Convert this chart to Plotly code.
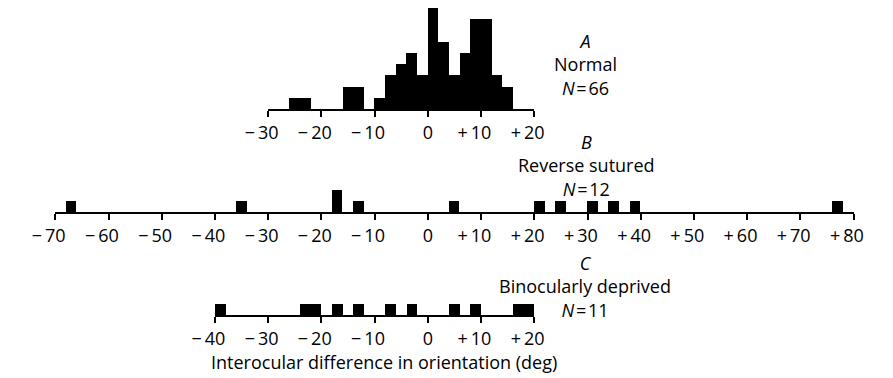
import plotly.graph_objects as go

# ---------------- data ----------------
# Panel A: Normal (2-degree bins, left edges and counts)
a_bin_left = [-26, -24, -16, -14, -10, -8, -6, -4, -2, 0, 2, 4, 6, 8, 10, 12, 14]
a_counts = [1, 1, 2, 2, 1, 3, 4, 5, 3, 9, 6, 3, 5, 8, 8, 3, 2]
# Panel B: Reverse sutured
b_bin_left = [-68, -36, -18, -14, 4, 20, 24, 30, 34, 38, 76]
b_counts = [1, 1, 2, 1, 1, 1, 1, 1, 1, 1, 1]
# Panel C: Binocularly deprived
c_bin_left = [-40, -24, -22, -18, -14, -8, -4, 4, 8, 16, 18]
c_counts = [1, 1, 1, 1, 1, 1, 1, 1, 1, 1, 1]
bin_width = 2

a_ticks = [-30, -20, -10, 0, 10, 20]
a_ticklabels = ["\u221230", "\u221220", "\u221210", "0", "+10", "+20"]
b_ticks = [-70, -60, -50, -40, -30, -20, -10, 0, 10, 20, 30, 40, 50, 60, 70, 80]
b_ticklabels = ["\u221270", "\u221260", "\u221250", "\u221240", "\u221230", "\u221220", "\u221210",
                "0", "+10", "+20", "+30", "+40", "+50", "+60", "+70", "+80"]
c_ticks = [-40, -30, -20, -10, 0, 10, 20]
c_ticklabels = ["\u221240", "\u221230", "\u221220", "\u221210", "0", "+10", "+20"]

panel_a_text = ["<i>A</i>", "Normal", "<i>N</i>\u200a=\u200a66"]
panel_b_text = ["<i>B</i>", "Reverse sutured", "<i>N</i>\u200a=\u200a12"]
panel_c_text = ["<i>C</i>", "Binocularly deprived", "<i>N</i>\u200a=\u200a11"]
x_title = "Interocular difference in orientation (deg)"

# ---------------- layout geometry ----------------
W, H = 893, 378
X0 = 426.8      # pixel of 0 deg
S = 5.624       # px per degree
U = 11.3        # px per count
FONT = "Open Sans"
TXT = 18
TICK = 18


def px(x):
    return x / W


def py(y):
    return 1 - y / H


def xdomain(lo, hi):
    return [px(X0 + lo * S), px(X0 + hi * S)]


def ydomain(base, rng):
    return [py(base), py(base - rng * U)]


def pad_label(lbl):
    # signs hang to the left of the digits: pad right so digits centre on the tick
    if lbl[0] in "\u2212+":
        return lbl[0] + "\u2009" + lbl[1:] + "\u2009\u2007"
    return lbl


fig = go.Figure()

panels = [
    (a_bin_left, a_counts, "x", "y"),
    (b_bin_left, b_counts, "x2", "y2"),
    (c_bin_left, c_counts, "x3", "y3"),
]
for left, counts, xa, ya in panels:
    fig.add_trace(go.Bar(
        x=[l + bin_width / 2 for l in left], y=counts, width=bin_width,
        marker=dict(color="black", line=dict(width=0)),
        xaxis=xa, yaxis=ya, showlegend=False, hoverinfo="skip",
    ))


def xaxis_cfg(lo, hi, ticks, labels, anchor):
    return dict(
        domain=xdomain(lo, hi), range=[lo, hi], anchor=anchor,
        showline=True, linecolor="black", linewidth=2,
        ticks="outside", ticklen=6, tickwidth=2, tickcolor="black",
        tickvals=ticks, ticktext=[pad_label(l) for l in labels],
        showgrid=False, zeroline=False,
        tickfont=dict(family=FONT, size=TICK, color="black"),
        ticklabelstandoff=0, fixedrange=True,
    )


def yaxis_cfg(base, rng, anchor):
    return dict(domain=ydomain(base, rng), range=[0, rng], anchor=anchor,
                visible=False, fixedrange=True)


fig.update_layout(
    width=W, height=H, margin=dict(l=0, r=0, t=0, b=0),
    paper_bgcolor="white", plot_bgcolor="white", bargap=0,
    xaxis=xaxis_cfg(-30, 20, a_ticks, a_ticklabels, "y"),
    yaxis=yaxis_cfg(109.3, 9.5, "x"),
    xaxis2=xaxis_cfg(-70, 80, b_ticks, b_ticklabels, "y2"),
    yaxis2=yaxis_cfg(212.3, 2.5, "x2"),
    xaxis3=xaxis_cfg(-40, 20, c_ticks, c_ticklabels, "y3"),
    yaxis3=yaxis_cfg(315.0, 1.5, "x3"),
)

annots = []


def add_block(lines, xc, yc):
    # one multi-line label per panel, centred on its middle line
    annots.append(dict(text="<br>".join(lines), x=px(xc), y=py(yc),
                       xref="paper", yref="paper", align="center",
                       xanchor="center", yanchor="middle", showarrow=False,
                       font=dict(family=FONT, size=TXT, color="black")))


add_block(panel_a_text, 593, 64)
add_block(panel_b_text, 594, 166)
add_block(panel_c_text, 593, 286)
annots.append(dict(text=x_title, x=px(195), y=py(362), xref="paper", yref="paper",
                   xanchor="left", yanchor="middle", showarrow=False,
                   font=dict(family=FONT, size=TXT, color="black")))
fig.update_layout(annotations=annots)

fig.write_html("out.html")
